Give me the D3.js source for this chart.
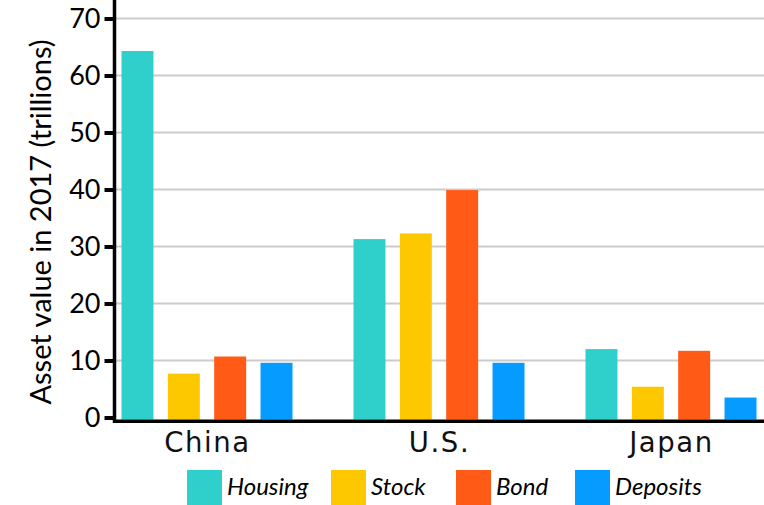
<!DOCTYPE html>
<html>
<head>
<meta charset="utf-8">
<script src="https://cdn.jsdelivr.net/npm/d3@7"></script>
<style>
  body { margin: 0; background: #fff; }
  svg { display: block; }
</style>
</head>
<body>
<div id="chart"></div>
<script>
const countries = ["China", "U.S.", "Japan"];
const assets = ["Housing", "Stock", "Bond", "Deposits"];
const housing = [64.3, 31.3, 12.0];
const stock = [7.7, 32.3, 5.4];
const bond = [10.7, 39.9, 11.7];
const deposits = [9.6, 9.6, 3.5];
const yTicks = [0, 10, 20, 30, 40, 50, 60, 70];
const colors = ["#2fcfcc", "#fec800", "#ff5a16", "#069bff"];

const width = 764, height = 505;
const series = [housing, stock, bond, deposits];
const data = countries.map((c, i) => ({
  country: c,
  values: assets.map((a, j) => ({ asset: a, value: series[j][i] }))
}));

let svg = d3.select("#chart").append("svg")
  .attr("width", width)
  .attr("height", height);

let y = d3.scaleLinear()
  .domain([0, 70])
  .range([417.5, 18.5]);

let x0 = d3.scaleBand()
  .domain(countries)
  .range([90.5, 786.5]);

let x1 = d3.scaleBand()
  .domain(assets)
  .range([31, 202])
  .paddingInner(0.31);

let color = d3.scaleOrdinal().domain(assets).range(colors);

// gridlines
svg.append("g")
  .selectAll("line")
  .data(yTicks.filter(d => d > 0))
  .join("line")
  .attr("x1", 116).attr("x2", width)
  .attr("y1", d => y(d)).attr("y2", d => y(d))
  .attr("stroke", "#cccccc")
  .attr("stroke-width", 2);

// bars
svg.append("g")
  .selectAll("g")
  .data(data)
  .join("g")
  .attr("transform", d => `translate(${x0(d.country)},0)`)
  .selectAll("rect")
  .data(d => d.values)
  .join("rect")
  .attr("x", d => x1(d.asset))
  .attr("width", x1.bandwidth())
  .attr("y", d => y(d.value))
  .attr("height", d => y(0) - y(d.value) + 2)
  .attr("fill", d => color(d.asset));

// y axis
let yAxis = svg.append("g")
  .attr("transform", "translate(114.5,0)")
  .call(d3.axisLeft(y).tickValues(yTicks).tickSize(10).tickPadding(4));
yAxis.select(".domain").remove();
yAxis.selectAll(".tick line").attr("stroke", "#000").attr("stroke-width", 4);
yAxis.selectAll(".tick text")
  .attr("fill", "#000")
  .style("font-family", "Lato, sans-serif")
  .style("font-size", "27px")
  .attr("dy", "0.35em");

svg.append("line")
  .attr("x1", 114.5).attr("x2", 114.5)
  .attr("y1", 0).attr("y2", 423)
  .attr("stroke", "#000").attr("stroke-width", 3.5);

// x axis
svg.append("line")
  .attr("x1", 113).attr("x2", width)
  .attr("y1", 421.3).attr("y2", 421.3)
  .attr("stroke", "#000").attr("stroke-width", 3.5);

svg.append("g")
  .selectAll("text")
  .data(countries)
  .join("text")
  .attr("x", d => x0(d) + x0.bandwidth() / 2 + 1)
  .attr("y", 452)
  .attr("text-anchor", "middle")
  .style("font-family", "'DejaVu Sans', sans-serif")
  .style("font-size", "27.5px")
  .style("letter-spacing", "1.6px")
  .attr("fill", "#111")
  .text(d => d);

// y title
svg.append("text")
  .attr("transform", "translate(51,222) rotate(-90)")
  .attr("text-anchor", "middle")
  .style("font-family", "Lato, sans-serif")
  .style("font-size", "29px")
  .text("Asset value in 2017 (trillions)");

// legend
const legendX = [187, 331, 456, 575];
let legend = svg.append("g")
  .selectAll("g")
  .data(assets)
  .join("g")
  .attr("transform", (d, i) => `translate(${legendX[i]},470)`);
legend.append("rect")
  .attr("width", 35).attr("height", 35)
  .attr("fill", d => color(d));
legend.append("text")
  .attr("x", 40).attr("y", 25)
  .style("font-family", "Lato, sans-serif")
  .style("font-style", "italic")
  .style("font-size", "24px")
  .text(d => d);
</script>
</body>
</html>
